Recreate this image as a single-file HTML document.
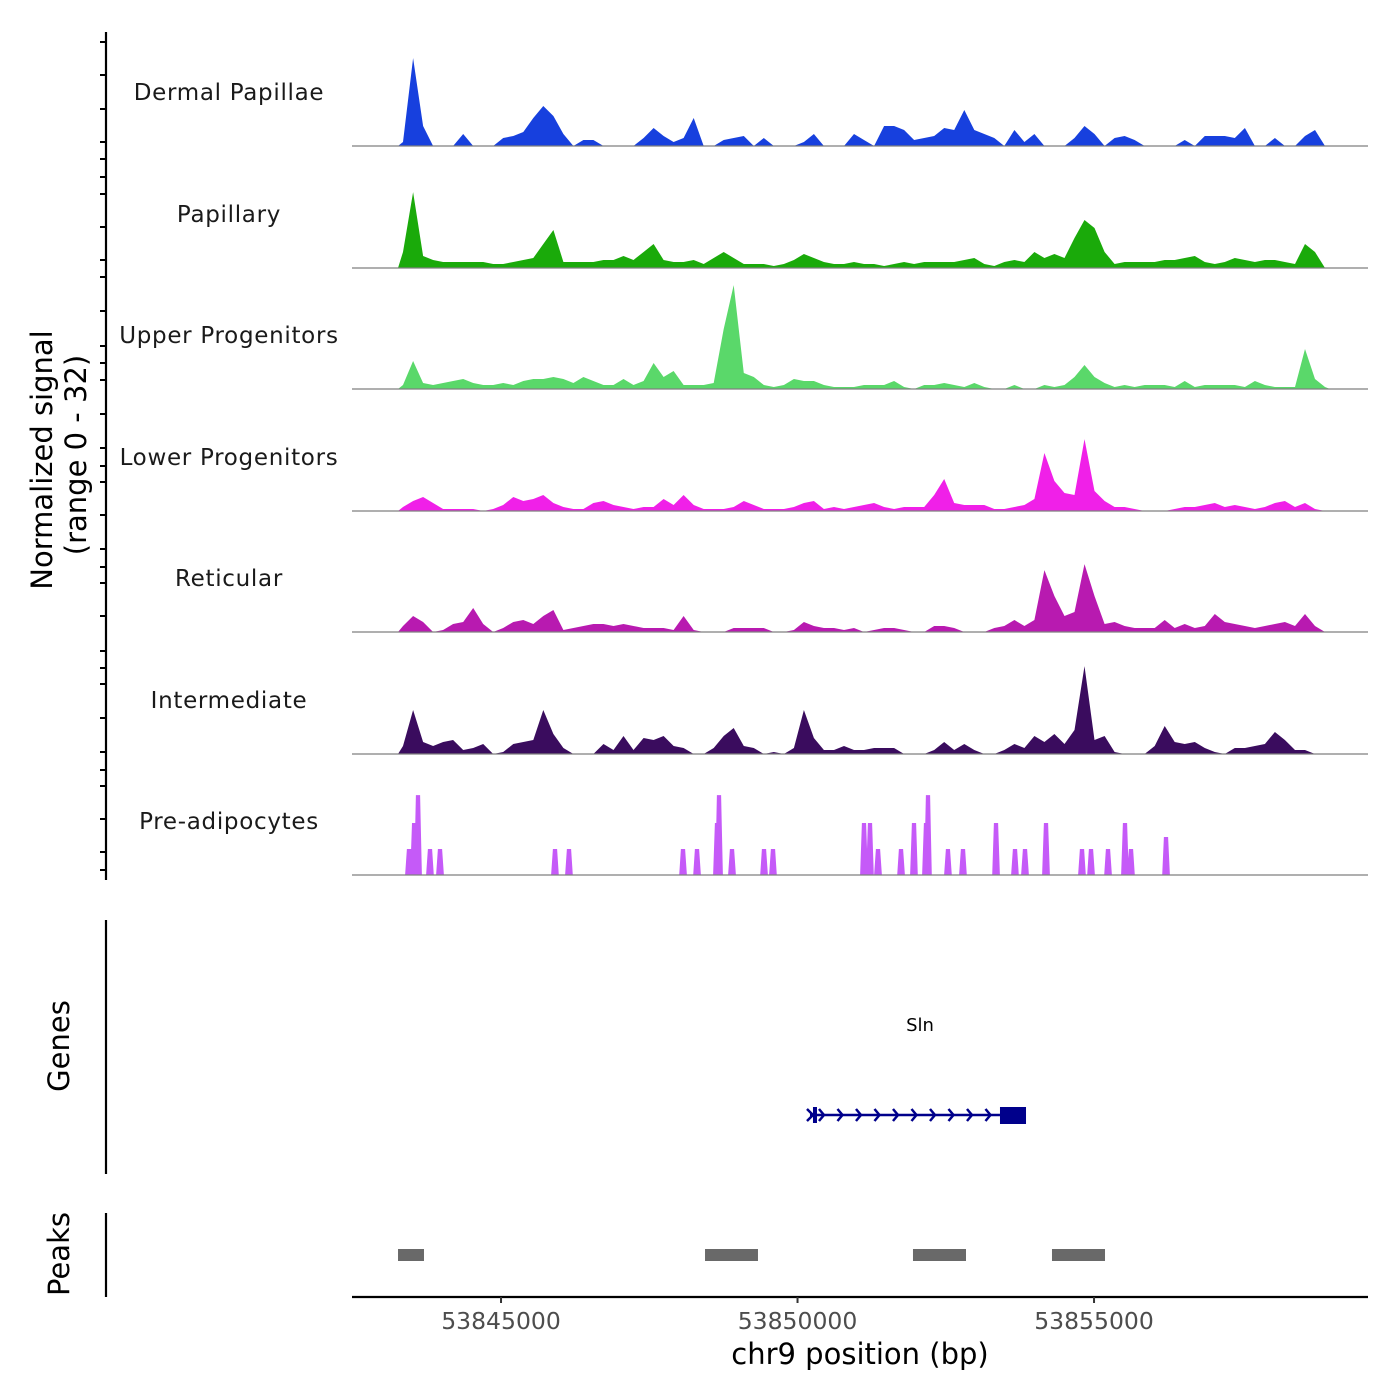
<!DOCTYPE html>
<html><head><meta charset="utf-8"><title>Coverage plot chr9</title>
<style>
html,body{margin:0;padding:0;background:#fff;}
svg{display:block;font-family:"DejaVu Sans","Liberation Sans",sans-serif;}
</style></head>
<body>
<svg id="chart" width="1400" height="1400" viewBox="0 0 1400 1400">
  <rect x="0" y="0" width="1400" height="1400" fill="#fff"/>
  <line x1="106" y1="32" x2="106" y2="880" stroke="#000" stroke-width="2.2"/>
  <path d="M100 42H106M100 75H106M100 109H106M100 142H106M100 159H106M100 177H106M100 194H106M100 227H106M100 260H106M100 277H106M100 311H106M100 346H106M100 363H106M100 380H106M100 414H106M100 448H106M100 466H106M100 482H106M100 515H106M100 549H106M100 567H106M100 583H106M100 616H106M100 651H106M100 668H106M100 684H106M100 718H106M100 752H106M100 770H106M100 786H106M100 819H106M100 852H106M100 870H106" stroke="#000" stroke-width="2"/>
  <text transform="translate(52,460) rotate(-90)" text-anchor="middle" font-size="29" fill="#000">Normalized signal</text>
  <text transform="translate(86,455) rotate(-90)" text-anchor="middle" font-size="29" fill="#000">(range 0 - 32)</text>
  <line x1="106" y1="920" x2="106" y2="1174" stroke="#000" stroke-width="2.2"/>
  <text transform="translate(69,1046) rotate(-90)" text-anchor="middle" font-size="29" fill="#000">Genes</text>
  <line x1="106" y1="1213" x2="106" y2="1297" stroke="#000" stroke-width="2.2"/>
  <text transform="translate(69,1254) rotate(-90)" text-anchor="middle" font-size="29" fill="#000">Peaks</text>
  <line x1="352" y1="1297" x2="1368" y2="1297" stroke="#000" stroke-width="2.2"/>
  <text x="860" y="1364" text-anchor="middle" font-size="29" fill="#000">chr9 position (bp)</text>
  <g id="tracks"></g>
  <g id="genes"></g>
  <g id="peaks"></g>
  <g id="xaxis"></g>
</svg>
<script>
const xDomain = [53842487, 53859620];
const binStart = 53843263;
const binSize = 169;
const trackNames = ["Dermal Papillae","Papillary","Upper Progenitors","Lower Progenitors","Reticular","Intermediate","Pre-adipocytes"];
const trackColors = ["#1740de","#1aaa0a","#5ad86a","#f020e8","#b81ab0","#3a0c5e","#c55af8"];
const dermalValues = [1,22,5,0,0,0,3,0,0,0,
2,2.5,3.5,7,10,7.5,3,0,1.5,1.5,
0,0,0,0,2,4.5,2.5,1,2,7,
0,0,1.5,2,2.5,0,2,0,0,0,
1,3,0,0,0,3,1.5,0,5,5,
4,1.5,2,2.5,4.5,4,9,4,3,2,
0,4,1,3,0,0,0,2,5,3,
0,2,2.5,1.5,0,0,0,0,1.5,0,
2.5,2.5,2.5,2,4.5,0,0,2,0,0,
2.5,4,0];
const papillaryValues = [4,19,3,2,1.5,1.5,1.5,1.5,1.5,1,
1,1.5,2,2.5,6,9.5,1.5,1.5,1.5,1.5,
2,2,3,2,4,6,2,1.5,1.5,2,
1,2.5,4,2.5,1,1,1,0.5,1,2,
3.5,2.5,1.5,1,1,1.5,1,1,0.5,1,
1.5,1,1.5,1.5,1.5,1.5,2,2.5,1,0.5,
1.5,2,1.5,4,2.5,3.5,2.5,7.5,12,10,
4,1,1.5,1.5,1.5,1.5,2,2,2.5,3,
1.5,1,1.5,2.5,2,1.5,2,2,1.5,1,
6,4,0];
const upperValues = [1,7,1.5,1,1.5,2,2.5,1.5,1,1,
1.5,1,2,2.5,2.5,3,2.5,1.5,3,2,
1,1,2.5,1,2,6.5,3,4.5,1,1,
1,1.5,15,26,4,3,1,0.5,1,2.5,
2,2,1,0.5,0.5,0.5,1,1,1,2,
0.5,0,1,1,1.5,1,0.5,1.5,0.5,0,
0,1,0,0,1,0.5,1,3,6,3,
1.5,0.5,1,0.5,1,1,1,0.5,2,0.5,
1,1,1,1,0.5,2,1,0.5,0.5,0.5,
10,2.5,0.5];
const lowerValues = [1,2.5,3.5,2,0.5,0.5,0.5,0.5,0,0.5,
1.5,3.5,2.5,3,4,2,1,0.5,0.5,2,
2.5,1.5,1,0.5,1,1,3,1.5,4,1.5,
0.5,0.5,0.5,1,2.5,1.5,0.5,0.5,0.5,1,
2,2.5,0.5,1,0.5,1,1.5,2,1,0.5,
1,1,1,4,8,2,1.5,1.5,1.5,0.5,
0.5,1,1.5,3,14.5,7.5,4.5,4,18,5,
2.5,1,1,0.5,0,0,0,0.5,1,1,
1.5,2,1,1.5,1,0.5,1,2,2.5,1,
2,0.5,0];
const reticularValues = [1.5,4,2.5,0,0.5,2,2.5,6,2,0,
1,2.5,3,2,4,5.5,0.5,1,1.5,2,
2,1.5,2,1.5,1,1,1,0.5,4,0.5,
0,0,0,1,1,1,1,0,0,0.5,
2.5,1.5,1,1,0.5,1,0,0.5,1,1,
0.5,0,0,1.5,1.5,1,0,0,0,1,
1.5,3,1.5,3,15.5,9,4,5,17,9,
2,2.5,1.5,1,1,1,3,1,2,1,
1.5,4.5,2.5,2,1.5,1,1.5,2,2.5,1.5,
4.5,1.5,0];
const intermediateValues = [2,11,3,2,3,3.5,1,1.5,2.5,0,
0.5,2.5,3,3.5,11,5,1.5,0,0,0,
2.5,1,4.5,1,4,3.5,4.5,2,1.5,0,
0,1.5,4.5,6.5,2,1.5,0,0.5,0,1.5,
11,4,1,1,2,1,1,1.5,1.5,1.5,
0,0,0,1,3,1,2.5,1,0,0,
1,2.5,1.5,4.5,3,5,2.5,6,22,3.5,
4.5,0.5,0,0,0,2,7,3,2.5,3,
1.5,0.5,0,1.5,1.5,2,2.5,5.5,3.5,1,
1,0,0];
const preadipPositions = [53843448,53843533,53843600,53843802,53843971,53845910,53846146,53848069,53848305,53848642,53848676,53848895,53849435,53849586,53851121,53851222,53851357,53851745,53851964,53852166,53852200,53852537,53852790,53853347,53853667,53853836,53854190,53854797,53854949,53855236,53855522,53855623,53856214];
const preadipValues = [6.5,13,20,6.5,6.5,6.5,6.5,6.5,6.5,13,20,6.5,6.5,6.5,13,13,6.5,6.5,13,13,20,6.5,6.5,13,6.5,6.5,13,6.5,6.5,6.5,13,6.5,9.5];
const geneName = "Sln";
const geneStart = 53850210;
const geneEnd = 53853853;
const cdsStart = 53853414;
const peakStarts = [53843263,53848440,53851947,53854291];
const peakEnds = [53843701,53849333,53852841,53855185];
const xTicks = [53845000,53850000,53855000];
const xTickLabels = ["53845000","53850000","53855000"];

const NS = "http://www.w3.org/2000/svg";
const X0 = 352, X1 = 1368;
function xs(bp){ return X0 + (bp - xDomain[0]) / (xDomain[1] - xDomain[0]) * (X1 - X0); }
const trackBase = [146,268,389,511,632,754,875];
const trackH = 121.5;
const yMax = 30.4;
function ys(t, v){ return trackBase[t] - v / yMax * trackH; }
function mk(tag, attrs, parent){ const e = document.createElementNS(NS, tag); for (const k in attrs) e.setAttribute(k, attrs[k]); parent.appendChild(e); return e; }

const tracksG = document.getElementById('tracks');
const binnedSeries = [dermalValues, papillaryValues, upperValues, lowerValues, reticularValues, intermediateValues];
const labelY = [92,214,335,457,578,700,821];
for (let t = 0; t < 7; t++) {
  const g = mk('g', {}, tracksG);
  
  
  const lab = mk('text', {x:229, y:labelY[t]+8, 'text-anchor':'middle', 'font-size':23, fill:'#1a1a1a', 'letter-spacing':'0.7'}, g);
  lab.textContent = trackNames[t];
  
  
  let d = '';
  if (t < 6) {
    const vals = binnedSeries[t];
    d = 'M' + xs(binStart).toFixed(1) + ' ' + trackBase[t];
    for (let i = 0; i < vals.length; i++) {
      d += 'L' + xs(binStart + (i + 0.5) * binSize).toFixed(1) + ' ' + ys(t, vals[i]).toFixed(1);
    }
    d += 'L' + xs(binStart + vals.length * binSize).toFixed(1) + ' ' + trackBase[t] + 'Z';
  } else {
    for (let i = 0; i < preadipPositions.length; i++) {
      const p = preadipPositions[i], y = ys(t, preadipValues[i]).toFixed(1);
      d += 'M' + xs(p - 65).toFixed(1) + ' ' + trackBase[t] + 'L' + xs(p - 35).toFixed(1) + ' ' + y + 'L' + xs(p + 35).toFixed(1) + ' ' + y + 'L' + xs(p + 65).toFixed(1) + ' ' + trackBase[t] + 'Z';
    }
  }
  const area = mk('path', {d: d, fill: trackColors[t], stroke: 'none'}, g);
  
  
  const bl = mk('line', {x1:X0, x2:X1, y1:trackBase[t], y2:trackBase[t], stroke:'#7f7f7f', 'stroke-width':1.2}, g);
  
  
}

// Gene
const genesG = document.getElementById('genes');
const gy = 1115;
const gs = xs(geneStart), ge = xs(geneEnd), gc = xs(cdsStart);
const gline = mk('line', {x1:gs, x2:gc, y1:gy, y2:gy, stroke:'#00008b', 'stroke-width':2.5}, genesG);


let arrows = '';
for (let ax = gs + 14; ax < gc - 4; ax += 18.5) arrows += 'M' + (ax - 5) + ' ' + (gy - 6) + 'L' + ax + ' ' + gy + 'L' + (ax - 5) + ' ' + (gy + 6);
arrows += 'M' + (gs - 3) + ' ' + (gy - 6) + 'L' + (gs + 3) + ' ' + gy + 'L' + (gs - 3) + ' ' + (gy + 6);
const arr = mk('path', {d: arrows, stroke:'#00008b', 'stroke-width':2.5, fill:'none'}, genesG);


const ex1 = mk('rect', {x: gs + 3, y: gy - 8, width: 4, height: 16, fill:'#00008b'}, genesG);


const cds = mk('rect', {x: gc, y: gy - 8, width: ge - gc, height: 17, fill:'#00008b'}, genesG);


const gl = mk('text', {x: 920, y: 1031, 'text-anchor':'middle', 'font-size':18, fill:'#000'}, genesG);
gl.textContent = geneName;



// Peaks
const peaksG = document.getElementById('peaks');
for (let i = 0; i < peakStarts.length; i++) {
  const r = mk('rect', {x: xs(peakStarts[i]), y: 1249, width: xs(peakEnds[i]) - xs(peakStarts[i]), height: 12, fill:'#696969'}, peaksG);
  
  
}

// X axis
const xaG = document.getElementById('xaxis');
for (let i = 0; i < xTicks.length; i++) {
  const x = xs(xTicks[i]);
  const tk = mk('line', {x1:x, x2:x, y1:1297, y2:1303, stroke:'#333', 'stroke-width':2}, xaG);
  
  
  const tl = mk('text', {x:x, y:1329, 'text-anchor':'middle', 'font-size':23.5, fill:'#4d4d4d'}, xaG);
  tl.textContent = xTickLabels[i];
  
  
}
</script>
</body></html>
